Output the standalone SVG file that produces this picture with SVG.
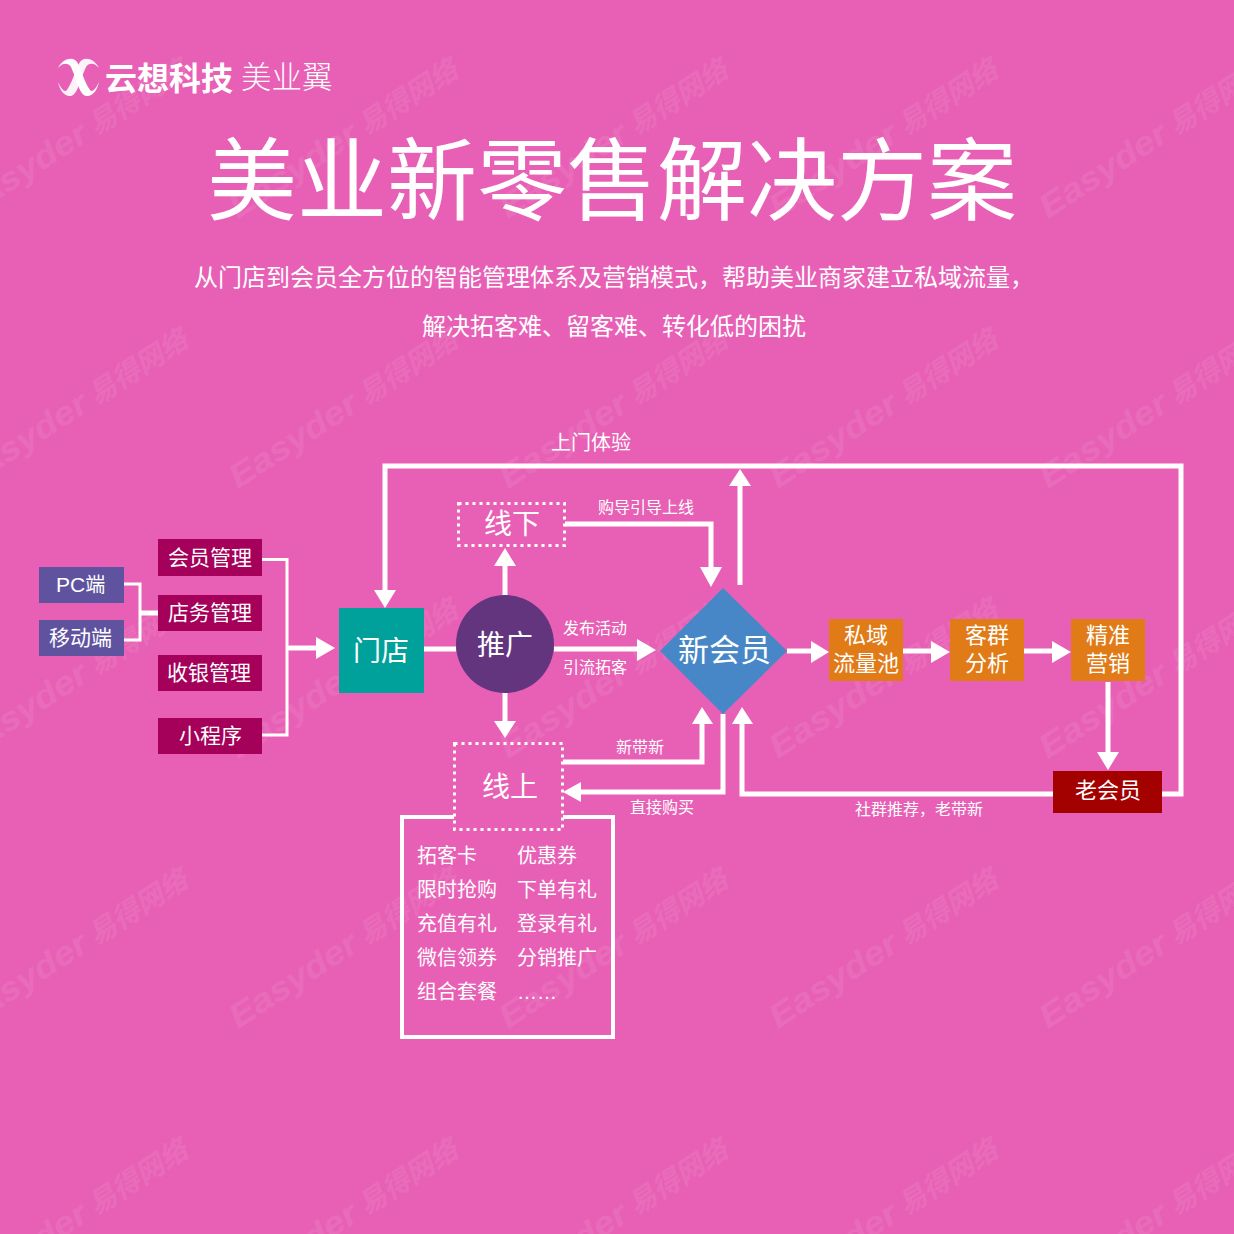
<svg xmlns="http://www.w3.org/2000/svg" width="1234" height="1234" viewBox="0 0 1234 1234">
<style>
text{font-family:"Noto Sans CJK SC","Noto Sans",sans-serif;fill:#fff}
.c{text-anchor:middle}
.l{fill:none;stroke:#fff;stroke-width:5}
.b{fill:none;stroke:#fff;stroke-width:4}
.t{fill:none;stroke:#fff;stroke-width:3}
.h{fill:#fff}
.d{fill:none;stroke:#fff;stroke-width:3;stroke-dasharray:3 4}
.wm{font-weight:700;font-style:italic}
.lat{font-family:"Liberation Sans",sans-serif}
.s16{font-size:16px}.s20{font-size:20px}.s21{font-size:21px}.s22{font-size:22px}.s28{font-size:28px}
</style>
<defs>
<g id="w" transform="rotate(-33)" opacity="0.075">
<text class="wm lat" x="0" y="0" font-size="33" textLength="146" lengthAdjust="spacingAndGlyphs">Easyder</text>
<text class="wm" x="153" y="0" font-size="28">易得网络</text>
</g>
</defs>
<rect width="1234" height="1234" fill="#e860b5"/>
<g id="watermarks">
<use href="#w" transform="translate(-32,219)"/><use href="#w" transform="translate(238,219)"/><use href="#w" transform="translate(508,219)"/><use href="#w" transform="translate(778,219)"/><use href="#w" transform="translate(1048,219)"/>
<use href="#w" transform="translate(-32,489)"/><use href="#w" transform="translate(238,489)"/><use href="#w" transform="translate(508,489)"/><use href="#w" transform="translate(778,489)"/><use href="#w" transform="translate(1048,489)"/>
<use href="#w" transform="translate(-32,759)"/><use href="#w" transform="translate(238,759)"/><use href="#w" transform="translate(508,759)"/><use href="#w" transform="translate(778,759)"/><use href="#w" transform="translate(1048,759)"/>
<use href="#w" transform="translate(-32,1029)"/><use href="#w" transform="translate(238,1029)"/><use href="#w" transform="translate(508,1029)"/><use href="#w" transform="translate(778,1029)"/><use href="#w" transform="translate(1048,1029)"/>
<use href="#w" transform="translate(-32,1299)"/><use href="#w" transform="translate(238,1299)"/><use href="#w" transform="translate(508,1299)"/><use href="#w" transform="translate(778,1299)"/><use href="#w" transform="translate(1048,1299)"/>
</g>
<g id="logo">
<path fill="#fff" d="M58 68C62 60 70 57 75 60C80 63 82 78 90 90C93 93 96 88 99 82C97 91 92 97 86 96C79 94 77 80 71 67C68 62 62 63 58 68Z"/>
<path fill="#fff" fill-opacity="0.92" d="M99 68C95 60 87 57 82 60C77 63 75 78 67 90C64 93 61 88 58 82C60 91 65 97 71 96C78 94 80 80 86 67C89 62 95 63 99 68Z"/>
<text x="105" y="90" font-size="32" font-weight="700">云想科技</text>
<text x="241" y="88" font-size="30.500" font-weight="200">美业翼</text>
</g>
<g id="title">
<text x="612" y="213" class="c" font-size="90">美业新零售解决方案</text>
<text x="194" y="286" font-size="24">从门店到会员全方位的智能管理体系及营销模式，帮助美业商家建立私域流量，</text>
<text x="422" y="335" font-size="24">解决拓客难、留客难、转化低的困扰</text>
</g>
<g id="connectors">
<path class="t" d="M124 584H140V640H124"/>
<path class="l" d="M140 613H158"/>
<path class="t" d="M262 559.500H287V735H262"/>
<path class="l" d="M287 648H318"/><path class="h" d="M316 637L335 648L316 659Z"/>
<path class="l" d="M1162 794H1181V466H385V592"/><path class="h" d="M374 590H396L385 608Z"/>
<path class="l" d="M424 649H456"/>
<path class="l" d="M505 595V564"/><path class="h" d="M494 566H516L505 548Z"/>
<path class="l" d="M554 649H639"/><path class="h" d="M637 639L656 650L637 661Z"/>
<path class="l" d="M505 692V723"/><path class="h" d="M494 721H516L505 738Z"/>
<path class="l" d="M565 524H711V569"/><path class="h" d="M700 567H722L711 587Z"/>
<path class="l" d="M740 585V484"/><path class="h" d="M729 486H751L740 469Z"/>
<path class="l" d="M563 762H702V722"/><path class="h" d="M692 724H713L702 707Z"/>
<path class="l" d="M723 714V792H579"/><path class="h" d="M581 782V802L563 792Z"/>
<path class="l" d="M1053 794H742V722"/><path class="h" d="M732 724H753L742 707Z"/>
<path class="l" d="M787 651H813"/><path class="h" d="M811 641V663L829 652Z"/>
<path class="l" d="M903 651H933"/><path class="h" d="M931 641V663L950 652Z"/>
<path class="l" d="M1024 651H1054"/><path class="h" d="M1052 641V663L1071 652Z"/>
<path class="l" d="M1108 682V754"/><path class="h" d="M1097 752H1119L1108 770Z"/>
<path class="b" d="M454 817H402V1037H613V817H563"/>
</g>
<g id="n-pc"><rect x="39" y="567" width="85" height="36" fill="#5f53a0"/><text x="56" y="592" class="s20"><tspan class="lat" font-size="21">PC</tspan>端</text></g>
<g id="n-mobile"><rect x="39" y="620" width="85" height="36" fill="#5f53a0"/><text x="49" y="645" class="s21">移动端</text></g>
<g id="n-member"><rect x="158" y="539" width="104" height="37" fill="#a5005a"/><text x="168" y="565" class="s21">会员管理</text></g>
<g id="n-shop"><rect x="158" y="595" width="104" height="36" fill="#a5005a"/><text x="168" y="620" class="s21">店务管理</text></g>
<g id="n-cash"><rect x="158" y="655" width="104" height="36" fill="#a5005a"/><text x="167" y="680" class="s21">收银管理</text></g>
<g id="n-mini"><rect x="158" y="718" width="104" height="36" fill="#a5005a"/><text x="179" y="743" class="s21">小程序</text></g>
<g id="n-store"><rect x="339" y="608" width="85" height="85" fill="#00a19a"/><text x="353" y="661" font-size="28">门店</text></g>
<g id="n-promo"><circle cx="505" cy="644" r="49" fill="#63357f"/><text x="477" y="655" class="s28">推广</text></g>
<g id="n-offline"><rect x="458.500" y="503.500" width="106" height="42" class="d"/><text x="484" y="534" class="s28">线下</text></g>
<g id="n-online"><rect x="454.500" y="743.500" width="108" height="86" class="d"/><text x="482" y="797" class="s28">线上</text></g>
<g id="n-new"><path d="M723 588L787 651L723 714L660 651Z" fill="#4787c7"/><text x="678" y="661" font-size="31">新会员</text></g>
<g id="n-private"><rect x="829" y="619" width="74" height="62" fill="#e17b17"/><text class="c s22"><tspan x="866" y="643">私域</tspan><tspan x="866" y="671">流量池</tspan></text></g>
<g id="n-analysis"><rect x="950" y="619" width="74" height="62" fill="#e17b17"/><text class="c s22"><tspan x="987" y="643">客群</tspan><tspan x="987" y="671">分析</tspan></text></g>
<g id="n-market"><rect x="1071" y="619" width="74" height="62" fill="#e17b17"/><text class="c s22"><tspan x="1108" y="643">精准</tspan><tspan x="1108" y="671">营销</tspan></text></g>
<g id="n-old"><rect x="1053" y="771" width="109" height="42" fill="#a30000"/><text x="1108" y="798" class="c s22">老会员</text></g>
<g id="labels">
<text x="591" y="450" class="c s20">上门体验</text>
<text x="646" y="513" class="c s16">购导引导上线</text>
<text x="595" y="634" class="c s16">发布活动</text>
<text x="595" y="673" class="c s16">引流拓客</text>
<text x="640" y="753" class="c s16">新带新</text>
<text x="662" y="813" class="c s16">直接购买</text>
<text x="919" y="815" class="c s16">社群推荐，老带新</text>
</g>
<g id="n-list">
<text x="417" y="863" class="s20">拓客卡</text><text x="517" y="863" class="s20">优惠券</text>
<text x="417" y="897" class="s20">限时抢购</text><text x="517" y="897" class="s20">下单有礼</text>
<text x="417" y="931" class="s20">充值有礼</text><text x="517" y="931" class="s20">登录有礼</text>
<text x="417" y="965" class="s20">微信领券</text><text x="517" y="965" class="s20">分销推广</text>
<text x="417" y="999" class="s20">组合套餐</text><text x="517" y="999" class="s20 lat">……</text>
</g>
</svg>
